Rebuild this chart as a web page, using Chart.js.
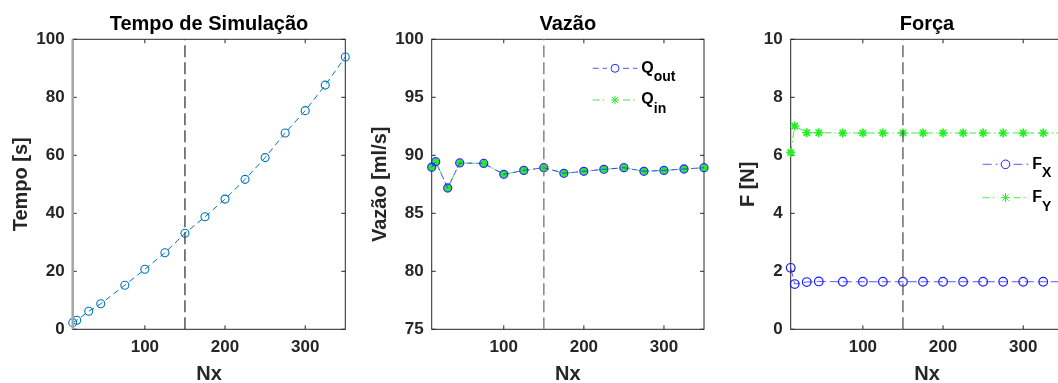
<!DOCTYPE html>
<html>
<head>
<meta charset="utf-8">
<script src="https://cdn.jsdelivr.net/npm/chart.js@4.4.1/dist/chart.umd.min.js"></script>
<style>
  html, body { margin: 0; padding: 0; background: #fff; overflow: hidden; }
  #wrap { position: relative; width: 1058px; height: 383px; overflow: hidden; }
  canvas { position: absolute; top: 0; }
</style>
</head>
<body>
<div id="wrap">
  <canvas id="grafTempo" width="360" height="383" style="left:0"></canvas>
  <canvas id="grafVazao" width="355" height="383" style="left:360px"></canvas>
  <canvas id="grafForca" width="360" height="383" style="left:715px"></canvas>
</div>
<script>
// dados
const nx = [10, 15, 30, 45, 75, 100, 125, 150, 175, 200, 225, 250, 275, 300, 325, 350];
const tempo = [2.3, 3.1, 6.2, 8.8, 15.2, 20.7, 26.4, 33.1, 38.8, 44.9, 51.7, 59.2, 67.7, 75.4, 84.2, 93.9];
const qOut = [88.97, 89.45, 87.18, 89.34, 89.3, 88.36, 88.7, 88.93, 88.45, 88.62, 88.79, 88.93, 88.62, 88.7, 88.82, 88.93];
const qIn  = [88.97, 89.45, 87.18, 89.34, 89.3, 88.36, 88.7, 88.93, 88.45, 88.62, 88.79, 88.93, 88.62, 88.7, 88.82, 88.93];
const fX = [2.12, 1.56, 1.63, 1.65, 1.64, 1.64, 1.64, 1.64, 1.64, 1.64, 1.64, 1.64, 1.64, 1.64, 1.64, 1.64];
const fY = [6.10, 7.01, 6.78, 6.78, 6.77, 6.77, 6.77, 6.77, 6.77, 6.77, 6.77, 6.77, 6.77, 6.77, 6.77, 6.77];
const nxTicks = [100, 200, 300];
const nxLim = [10, 350];
const nxCorte = 150;
const tempoLim = [0, 100];
const vazaoLim = [75, 100];
const forcaLim = [0, 10];

const ink = '#262626';
const fonte = "'Liberation Sans', Arial, Helvetica, sans-serif";
Chart.defaults.font.family = fonte;
Chart.defaults.font.weight = 'bold';
Chart.defaults.color = ink;

function pontos(ys) {
  return nx.map((v, i) => ({ x: v, y: ys[i] }));
}

// caixa estilo matlab com ticks para dentro
const eixosMatlab = {
  id: 'eixosMatlab',
  beforeDatasetsDraw(chart) {
    const { ctx, chartArea: a, scales: { x, y } } = chart;
    const t = 4;
    ctx.save();
    ctx.strokeStyle = ink;
    ctx.lineWidth = 1;
    ctx.strokeRect(a.left, a.top, a.width, a.height);
    ctx.beginPath();
    x.ticks.forEach(tk => {
      const px = x.getPixelForValue(tk.value);
      ctx.moveTo(px, a.bottom); ctx.lineTo(px, a.bottom - t);
      ctx.moveTo(px, a.top); ctx.lineTo(px, a.top + t);
    });
    y.ticks.forEach(tk => {
      const py = y.getPixelForValue(tk.value);
      ctx.moveTo(a.left, py); ctx.lineTo(a.left + t, py);
      ctx.moveTo(a.right, py); ctx.lineTo(a.right - t, py);
    });
    ctx.stroke();
    ctx.restore();
  }
};

// legenda com subscrito
const legenda = {
  id: 'legenda',
  afterDatasetsDraw(chart, args, opts) {
    if (!opts.items) return;
    const ctx = chart.ctx;
    opts.items.forEach((it, i) => {
      const ds = chart.data.datasets[it.dataset];
      const y = opts.y + i * opts.dy;
      const xm = opts.x + opts.len / 2;
      ctx.save();
      ctx.strokeStyle = ds.borderColor;
      ctx.lineWidth = ds.borderWidth;
      ctx.setLineDash(ds.borderDash || []);
      ctx.beginPath();
      ctx.moveTo(opts.x, y); ctx.lineTo(xm - 8, y);
      ctx.moveTo(xm + 8, y); ctx.lineTo(opts.x + opts.len, y);
      ctx.stroke();
      ctx.setLineDash([]);
      ctx.strokeStyle = ds.pointBorderColor;
      ctx.fillStyle = ds.pointBackgroundColor;
      Chart.helpers.drawPoint(ctx, {
        pointStyle: ds.pointStyle, radius: it.radius || ds.pointRadius,
        borderWidth: it.bw || ds.pointBorderWidth, rotation: 0
      }, xm, y);
      ctx.fillStyle = '#000';
      ctx.textBaseline = 'middle';
      ctx.textAlign = 'left';
      ctx.font = 'bold 16px ' + fonte;
      const xt = opts.x + opts.len + 4;
      ctx.fillText(it.text, xt, y);
      const w = ctx.measureText(it.text).width;
      ctx.font = 'bold 14px ' + fonte;
      ctx.fillText(it.sub, xt + w, y + 9);
      ctx.restore();
    });
  }
};

function linhaCorte(lim, cor, largura) {
  return {
    data: [{ x: nxCorte, y: lim[0] }, { x: nxCorte, y: lim[1] }],
    borderColor: cor, borderWidth: largura, borderDash: [12, 5],
    pointRadius: 0, clip: false
  };
}

function criarGrafico(id, cfg) {
  return new Chart(document.getElementById(id), {
    type: 'line',
    data: { datasets: cfg.datasets },
    options: {
      responsive: false,
      animation: false,
      layout: { padding: { left: 0, right: cfg.padDir, top: 0, bottom: 0 } },
      plugins: {
        legend: { display: false },
        tooltip: { enabled: false },
        title: {
          display: true, text: cfg.titulo, fullSize: false, color: '#000',
          font: { size: 20, weight: 'bold', lineHeight: 1.2 },
          padding: { top: 12, bottom: 3.3 }
        },
        legenda: cfg.legenda || {}
      },
      scales: {
        x: {
          type: 'linear', min: nxLim[0], max: nxLim[1],
          afterBuildTicks: s => { s.ticks = nxTicks.map(v => ({ value: v })); },
          afterFit: s => { s.height = 53.7; },
          grid: { display: false, drawTicks: false },
          border: { display: false },
          ticks: { padding: 8, font: { size: 17 }, color: ink },
          title: { display: true, text: 'Nx', color: ink, font: { size: 20, lineHeight: 1 }, padding: { top: 0, bottom: -1.5 } }
        },
        y: {
          min: cfg.lim[0], max: cfg.lim[1],
          ticks: { stepSize: cfg.passo, padding: 8, font: { size: 17 }, color: ink },
          afterFit: s => { s.width = cfg.largY; },
          grid: { display: false, drawTicks: false },
          border: { display: false },
          title: { display: true, text: cfg.tituloY, color: ink, font: { size: 20, lineHeight: 1 }, padding: { top: cfg.padTituloY, bottom: 0 } }
        }
      }
    },
    plugins: [eixosMatlab, legenda]
  });
}

const tracejado = [6, 4];
const tracoPonto = [7, 3, 1.5, 3];

criarGrafico('grafTempo', {
  titulo: 'Tempo de Simulação', tituloY: 'Tempo [s]',
  lim: tempoLim, passo: 20, largY: 72.7, padDir: 14.7, padTituloY: 11.7,
  datasets: [
    { data: [{ x: nxLim[0], y: tempoLim[0] }, { x: nxLim[0], y: tempoLim[1] }],
      borderColor: '#a6a6a6', borderWidth: 2.5, pointRadius: 0, clip: false },
    linhaCorte(tempoLim, '#3a3a3a', 1.3),
    { data: pontos(tempo), borderColor: '#0072BD', borderWidth: 1, borderDash: tracejado,
      pointStyle: 'circle', pointRadius: 4, pointBorderColor: '#0072BD',
      pointBackgroundColor: 'rgba(0,0,0,0)', pointBorderWidth: 1.1, clip: false }
  ]
});

criarGrafico('grafVazao', {
  titulo: 'Vazão', tituloY: 'Vazão [ml/s]',
  lim: vazaoLim, passo: 5, largY: 71.7, padDir: 11, padTituloY: 10,
  datasets: [
    linhaCorte(vazaoLim, '#8c8c8c', 1.6),
    { data: pontos(qOut), borderColor: 'rgba(40,40,255,0.8)', borderWidth: 1, borderDash: tracejado,
      pointStyle: 'circle', pointRadius: 4, pointBorderColor: '#2a2aff',
      pointBackgroundColor: 'rgba(0,0,0,0)', pointBorderWidth: 1.3, clip: false },
    { data: pontos(qIn), borderColor: 'rgba(0,220,60,0.8)', borderWidth: 1, borderDash: tracoPonto,
      pointStyle: 'star', pointRadius: 3.5, pointBorderColor: '#22ee22',
      pointBackgroundColor: '#22ee22', pointBorderWidth: 3, clip: false }
  ],
  legenda: {
    x: 232.7, len: 44.6, y: 68.3, dy: 31.7,
    items: [
      { dataset: 1, text: 'Q', sub: 'out' },
      { dataset: 2, text: 'Q', sub: 'in', radius: 4, bw: 1.5 }
    ]
  }
});

criarGrafico('grafForca', {
  titulo: 'Força', tituloY: 'F [N]',
  lim: forcaLim, passo: 2, largY: 75.7, padDir: 11.7, padTituloY: 23.3,
  datasets: [
    linhaCorte(forcaLim, '#555555', 1.3),
    { data: pontos(fX), borderColor: 'rgba(60,60,255,0.85)', borderWidth: 1, borderDash: [9, 4],
      pointStyle: 'circle', pointRadius: 4.3, pointBorderColor: '#1a1aff',
      pointBackgroundColor: 'rgba(0,0,0,0)', pointBorderWidth: 1.2, clip: false },
    { data: pontos(fY), borderColor: 'rgba(40,240,40,0.9)', borderWidth: 1, borderDash: tracoPonto,
      pointStyle: 'star', pointRadius: 4.5, pointBorderColor: '#22ee22',
      pointBackgroundColor: '#22ee22', pointBorderWidth: 1.6, clip: false }
  ],
  legenda: {
    x: 267.7, len: 45.6, y: 164.3, dy: 33.4,
    items: [
      { dataset: 1, text: 'F', sub: 'X' },
      { dataset: 2, text: 'F', sub: 'Y' }
    ]
  }
});
</script>
</body>
</html>
